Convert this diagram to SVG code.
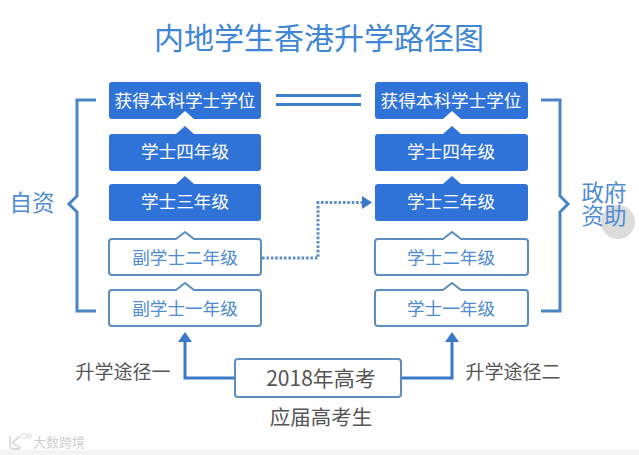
<svg xmlns="http://www.w3.org/2000/svg" width="639" height="455" viewBox="0 0 639 455">
<style>
text{font-family:"Noto Sans CJK SC","Liberation Sans",sans-serif;text-anchor:middle}
.f{fill:#2f72d8}
.o{fill:#fff;stroke:#5b8dbf;stroke-width:2;stroke-linejoin:round}
.w{fill:#fff;font-size:17.6px}
.b{fill:#4f8cd0;font-size:17.6px}
.g{fill:#555;font-size:19px}
.l{fill:none;stroke:#4a84c4;stroke-width:3;stroke-linejoin:miter}
.s{fill:none;stroke:#3a78c8;stroke-width:3}
.d{fill:none;stroke:#5e8fc4;stroke-width:3;stroke-dasharray:2.6 1.8}
.side{fill:#4f8cd0;font-size:22.500px}
</style>
<rect width="639" height="455" fill="#fefefe"/>
<rect y="450" width="639" height="5" fill="#f4f4f4"/>
<circle cx="618" cy="222" r="17" fill="#dcdcdc"/>
<text x="319" y="49" font-size="30" fill="#3f86d6">内地学生香港升学路径图</text>
<g id="connectors">
<path class="l" d="M96 100H77V196L69 204L77 212V311H96"/>
<path class="l" d="M541 100H560V196L568 204L560 212V311H541"/>
<path d="M276 95.500H361M276 104.500H361" fill="none" stroke="#3f7fc8" stroke-width="3"/>
<path class="d" d="M262 258H318V202.500H362"/>
<path d="M362 196L372 202.500L362 209Z" fill="#3a78c8"/>
<path class="s" d="M234 378H185V342"/>
<path d="M178 342L185 332L192 342Z" fill="#3a78c8"/>
<path class="s" d="M402 378H452V342"/>
<path d="M445 342L452 332L459 342Z" fill="#3a78c8"/>
</g>
<g id="l5"><path class="f" d="M112 82H258Q261 82 261 85V116Q261 119 258 119H194L185 111L176 119H112Q109 119 109 116V85Q109 82 112 82Z"/><text class="w" x="185" y="107">获得本科学士学位</text></g>
<g id="l4"><path class="f" d="M112 134H176L185 126L194 134H258Q261 134 261 137V168Q261 171 258 171H112Q109 171 109 168V137Q109 134 112 134Z"/><text class="w" x="185" y="158">学士四年级</text></g>
<g id="l3"><path class="f" d="M112 184H176L185 176L194 184H258Q261 184 261 187V218Q261 221 258 221H112Q109 221 109 218V187Q109 184 112 184Z"/><text class="w" x="185" y="208">学士三年级</text></g>
<g id="l2"><path class="o" d="M112 239H176L185 232L194 239H258Q261 239 261 242V272Q261 275 258 275H112Q109 275 109 272V242Q109 239 112 239Z"/><text class="b" x="185" y="264">副学士二年级</text></g>
<g id="l1"><path class="o" d="M112 290H176L185 283L194 290H258Q261 290 261 293V323Q261 326 258 326H112Q109 326 109 323V293Q109 290 112 290Z"/><text class="b" x="185" y="315">副学士一年级</text></g>
<g id="r5"><path class="f" d="M378 82H525Q528 82 528 85V116Q528 119 525 119H461L452 111L443 119H378Q375 119 375 116V85Q375 82 378 82Z"/><text class="w" x="451" y="107">获得本科学士学位</text></g>
<g id="r4"><path class="f" d="M378 134H443L452 126L461 134H525Q528 134 528 137V168Q528 171 525 171H378Q375 171 375 168V137Q375 134 378 134Z"/><text class="w" x="451" y="158">学士四年级</text></g>
<g id="r3"><path class="f" d="M378 184H443L452 176L461 184H525Q528 184 528 187V218Q528 221 525 221H378Q375 221 375 218V187Q375 184 378 184Z"/><text class="w" x="451" y="208">学士三年级</text></g>
<g id="r2"><path class="o" d="M378 239H443L452 232L461 239H525Q528 239 528 242V272Q528 275 525 275H378Q375 275 375 272V242Q375 239 378 239Z"/><text class="b" x="451" y="264">学士二年级</text></g>
<g id="r1"><path class="o" d="M378 290H443L452 283L461 290H525Q528 290 528 293V323Q528 326 525 326H378Q375 326 375 323V293Q375 290 378 290Z"/><text class="b" x="451" y="315">学士一年级</text></g>
<g id="exam"><rect class="o" x="235" y="359" width="166" height="38" rx="3"/><text class="g" x="321" y="386" style="font-size:21px">2018年高考</text></g>
<text class="g" x="321" y="425" style="font-size:20.500px">应届高考生</text>
<text class="g" x="123" y="379">升学途径一</text>
<text class="g" x="513" y="379">升学途径二</text>
<text class="side" x="32" y="211">自资</text>
<text class="side" x="604" y="201">政府<tspan x="604" dy="23">资助</tspan></text>
<g id="watermark"><path d="M10 436V446Q10 449 14 449H20M12 443L20 436M12 443L21 448" fill="none" stroke="#dcdcdc" stroke-width="2"/><circle cx="24" cy="436" r="2.500" fill="none" stroke="#dcdcdc"/><circle cx="29" cy="436" r="1.800" fill="none" stroke="#dcdcdc"/><text x="59" y="447" font-size="13" fill="#cfcfcf">大数跨境</text></g>
</svg>
